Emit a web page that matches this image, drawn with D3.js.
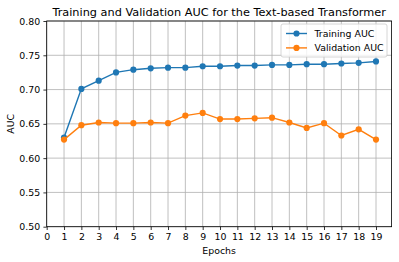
<!DOCTYPE html>
<html>
<head>
<meta charset="utf-8">
<script src="https://cdn.jsdelivr.net/npm/d3@7"></script>
<style>
  body { margin: 0; background: #fff; }
  text { font-family: "DejaVu Sans", sans-serif; fill: #000; }
</style>
</head>
<body>
<svg id="chart"></svg>
<script>
const epochs = [1, 2, 3, 4, 5, 6, 7, 8, 9, 10, 11, 12, 13, 14, 15, 16, 17, 18, 19];
const trainAuc = [0.630, 0.701, 0.713, 0.725, 0.729, 0.731, 0.732, 0.732, 0.734, 0.734,
  0.735, 0.735, 0.736, 0.736, 0.737, 0.737, 0.738, 0.739, 0.741];
const valAuc = [0.627, 0.648, 0.652, 0.651, 0.651, 0.652, 0.651, 0.662, 0.666, 0.657,
  0.657, 0.658, 0.659, 0.652, 0.644, 0.651, 0.633, 0.642, 0.627];
const xTicks = d3.range(0, 20);
const yTicks = [0.50, 0.55, 0.60, 0.65, 0.70, 0.75, 0.80];

const width = 399, height = 262;
const margin = { top: 21, right: 7.4, bottom: 35.3, left: 46.7 };
const w = width - margin.left - margin.right;
const h = height - margin.top - margin.bottom;
const fs = 9.4;

const svg = d3.select("#chart").attr("width", width).attr("height", height);
const g = svg.append("g").attr("transform", `translate(${margin.left},${margin.top})`);

const x = d3.scaleLinear().domain([0, 19.9]).range([0, w]);
const y = d3.scaleLinear().domain([0.5, 0.8]).range([h, 0]);

// grid
g.append("g").selectAll("line").data(xTicks).join("line")
  .attr("x1", d => x(d)).attr("x2", d => x(d)).attr("y1", 0).attr("y2", h)
  .attr("stroke", "#b0b0b0").attr("stroke-width", 0.8);
g.append("g").selectAll("line").data(yTicks).join("line")
  .attr("y1", d => y(d)).attr("y2", d => y(d)).attr("x1", 0).attr("x2", w)
  .attr("stroke", "#b0b0b0").attr("stroke-width", 0.8);

// axes
const xAxis = g.append("g").attr("transform", `translate(0,${h})`)
  .call(d3.axisBottom(x).tickValues(xTicks).tickFormat(d3.format("d")).tickSize(3.3).tickPadding(3.3));
const yAxis = g.append("g")
  .call(d3.axisLeft(y).tickValues(yTicks).tickFormat(d3.format(".2f")).tickSize(3.3).tickPadding(3.3));
[xAxis, yAxis].forEach(a => {
  a.select(".domain").remove();
  a.selectAll("line").attr("stroke", "#000").attr("stroke-width", 0.8);
  a.selectAll("text").style("font-size", fs + "px").style("font-family", "DejaVu Sans");
});

// spines
g.append("rect").attr("width", w).attr("height", h)
  .attr("fill", "none").attr("stroke", "#000").attr("stroke-width", 0.8);

const series = [
  { name: "Training AUC", values: trainAuc, color: "#1f77b4" },
  { name: "Validation AUC", values: valAuc, color: "#ff7f0e" }
];

const line = d3.line().x((d, i) => x(epochs[i])).y(d => y(d));

series.forEach(s => {
  g.append("path").datum(s.values)
    .attr("d", line).attr("fill", "none")
    .attr("stroke", s.color).attr("stroke-width", 1.4);
  g.append("g").selectAll("circle").data(s.values).join("circle")
    .attr("cx", (d, i) => x(epochs[i])).attr("cy", d => y(d))
    .attr("r", 3.1).attr("fill", s.color);
});

// title and labels
svg.append("text")
  .attr("x", margin.left + w / 2).attr("y", 15.5)
  .attr("text-anchor", "middle").style("font-size", "11.3px")
  .text("Training and Validation AUC for the Text-based Transformer");
svg.append("text")
  .attr("x", margin.left + w / 2).attr("y", 254)
  .attr("text-anchor", "middle").style("font-size", fs + "px")
  .text("Epochs");
svg.append("text")
  .attr("transform", `translate(14,${margin.top + h / 2}) rotate(-90)`)
  .attr("text-anchor", "middle").style("font-size", fs + "px")
  .text("AUC");

// legend
const lg = svg.append("g").attr("transform", "translate(281,24)");
lg.append("rect").attr("width", 106).attr("height", 33).attr("rx", 2)
  .attr("fill", "#fff").attr("fill-opacity", 0.8)
  .attr("stroke", "#cccccc").attr("stroke-width", 0.8);
series.forEach((s, i) => {
  const yy = 9.5 + i * 14.4;
  lg.append("line").attr("x1", 5).attr("x2", 26).attr("y1", yy).attr("y2", yy)
    .attr("stroke", s.color).attr("stroke-width", 1.4);
  lg.append("circle").attr("cx", 15.5).attr("cy", yy).attr("r", 3.1).attr("fill", s.color);
  lg.append("text").attr("x", 33.5).attr("y", yy).attr("dy", "0.35em")
    .style("font-size", fs + "px").text(s.name);
});
</script>
</body>
</html>
